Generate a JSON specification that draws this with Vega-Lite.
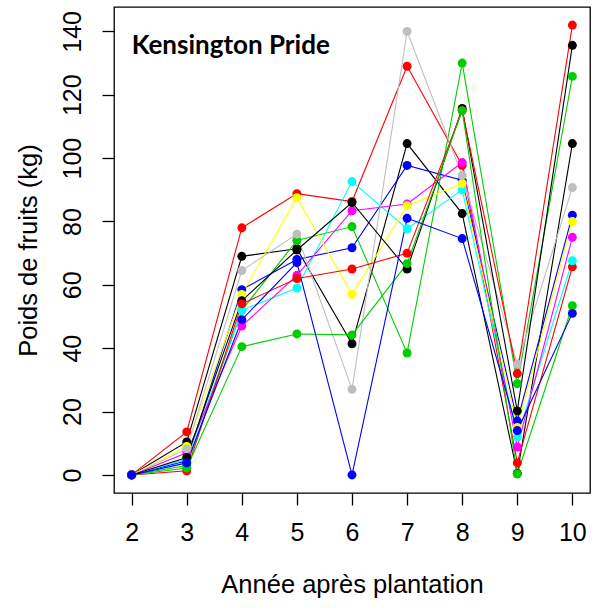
{
  "$schema": "https://vega.github.io/schema/vega-lite/v6.json",
  "width": 476,
  "height": 486,
  "autosize": {"type": "none"},
  "padding": {"left": 114, "top": 7, "right": 6, "bottom": 115},
  "background": "white",
  "config": {
    "view": {"stroke": "black", "strokeWidth": 1.3},
    "font": "Liberation Sans"
  },
  "datasets": {
    "rend": [
      {"serie": "S01", "annee": 2, "poids": 0}, {"serie": "S01", "annee": 3, "poids": 10.4}, {"serie": "S01", "annee": 4, "poids": 69}, {"serie": "S01", "annee": 5, "poids": 71.4}, {"serie": "S01", "annee": 6, "poids": 41.4}, {"serie": "S01", "annee": 7, "poids": 104.6}, {"serie": "S01", "annee": 8, "poids": 82.5}, {"serie": "S01", "annee": 9, "poids": 0.5}, {"serie": "S01", "annee": 10, "poids": 104.6},
      {"serie": "S02", "annee": 2, "poids": 0}, {"serie": "S02", "annee": 3, "poids": 13.6}, {"serie": "S02", "annee": 4, "poids": 78}, {"serie": "S02", "annee": 5, "poids": 88.8}, {"serie": "S02", "annee": 6, "poids": 86.3}, {"serie": "S02", "annee": 7, "poids": 129}, {"serie": "S02", "annee": 8, "poids": 97.7}, {"serie": "S02", "annee": 9, "poids": 3.8}, {"serie": "S02", "annee": 10, "poids": 65.7},
      {"serie": "S03", "annee": 2, "poids": 0}, {"serie": "S03", "annee": 3, "poids": 3}, {"serie": "S03", "annee": 4, "poids": 52}, {"serie": "S03", "annee": 5, "poids": 74}, {"serie": "S03", "annee": 6, "poids": 78.4}, {"serie": "S03", "annee": 7, "poids": 38.5}, {"serie": "S03", "annee": 8, "poids": 130}, {"serie": "S03", "annee": 9, "poids": 28.8}, {"serie": "S03", "annee": 10, "poids": 125.8},
      {"serie": "S04", "annee": 2, "poids": 0}, {"serie": "S04", "annee": 3, "poids": 4.5}, {"serie": "S04", "annee": 4, "poids": 58.5}, {"serie": "S04", "annee": 5, "poids": 68}, {"serie": "S04", "annee": 6, "poids": 71.7}, {"serie": "S04", "annee": 7, "poids": 97.7}, {"serie": "S04", "annee": 8, "poids": 93}, {"serie": "S04", "annee": 9, "poids": 17}, {"serie": "S04", "annee": 10, "poids": 82},
      {"serie": "S05", "annee": 2, "poids": 0}, {"serie": "S05", "annee": 3, "poids": 5}, {"serie": "S05", "annee": 4, "poids": 52}, {"serie": "S05", "annee": 5, "poids": 59}, {"serie": "S05", "annee": 6, "poids": 92.6}, {"serie": "S05", "annee": 7, "poids": 77.7}, {"serie": "S05", "annee": 8, "poids": 90}, {"serie": "S05", "annee": 9, "poids": 12}, {"serie": "S05", "annee": 10, "poids": 67.6},
      {"serie": "S06", "annee": 2, "poids": 0}, {"serie": "S06", "annee": 3, "poids": 7}, {"serie": "S06", "annee": 4, "poids": 47}, {"serie": "S06", "annee": 5, "poids": 63}, {"serie": "S06", "annee": 6, "poids": 83.4}, {"serie": "S06", "annee": 7, "poids": 85.5}, {"serie": "S06", "annee": 8, "poids": 98.6}, {"serie": "S06", "annee": 9, "poids": 8.8}, {"serie": "S06", "annee": 10, "poids": 75},
      {"serie": "S07", "annee": 2, "poids": 0}, {"serie": "S07", "annee": 3, "poids": 9}, {"serie": "S07", "annee": 4, "poids": 57}, {"serie": "S07", "annee": 5, "poids": 87.5}, {"serie": "S07", "annee": 6, "poids": 57}, {"serie": "S07", "annee": 7, "poids": 85}, {"serie": "S07", "annee": 8, "poids": 92}, {"serie": "S07", "annee": 9, "poids": 15}, {"serie": "S07", "annee": 10, "poids": 80},
      {"serie": "S08", "annee": 2, "poids": 0}, {"serie": "S08", "annee": 3, "poids": 8.2}, {"serie": "S08", "annee": 4, "poids": 64.5}, {"serie": "S08", "annee": 5, "poids": 76}, {"serie": "S08", "annee": 6, "poids": 27}, {"serie": "S08", "annee": 7, "poids": 140}, {"serie": "S08", "annee": 8, "poids": 94.5}, {"serie": "S08", "annee": 9, "poids": 35}, {"serie": "S08", "annee": 10, "poids": 90.7},
      {"serie": "S09", "annee": 2, "poids": 0}, {"serie": "S09", "annee": 3, "poids": 5.5}, {"serie": "S09", "annee": 4, "poids": 55}, {"serie": "S09", "annee": 5, "poids": 71}, {"serie": "S09", "annee": 6, "poids": 86}, {"serie": "S09", "annee": 7, "poids": 65}, {"serie": "S09", "annee": 8, "poids": 115.7}, {"serie": "S09", "annee": 9, "poids": 20.2}, {"serie": "S09", "annee": 10, "poids": 135.6},
      {"serie": "S10", "annee": 2, "poids": 0}, {"serie": "S10", "annee": 3, "poids": 1.3}, {"serie": "S10", "annee": 4, "poids": 54}, {"serie": "S10", "annee": 5, "poids": 62}, {"serie": "S10", "annee": 6, "poids": 65}, {"serie": "S10", "annee": 7, "poids": 70}, {"serie": "S10", "annee": 8, "poids": 115}, {"serie": "S10", "annee": 9, "poids": 32}, {"serie": "S10", "annee": 10, "poids": 142},
      {"serie": "S11", "annee": 2, "poids": 0}, {"serie": "S11", "annee": 3, "poids": 2.2}, {"serie": "S11", "annee": 4, "poids": 40.5}, {"serie": "S11", "annee": 5, "poids": 44.5}, {"serie": "S11", "annee": 6, "poids": 44.2}, {"serie": "S11", "annee": 7, "poids": 66.7}, {"serie": "S11", "annee": 8, "poids": 115}, {"serie": "S11", "annee": 9, "poids": 0.3}, {"serie": "S11", "annee": 10, "poids": 53.4},
      {"serie": "S12", "annee": 2, "poids": 0}, {"serie": "S12", "annee": 3, "poids": 3.8}, {"serie": "S12", "annee": 4, "poids": 49}, {"serie": "S12", "annee": 5, "poids": 67}, {"serie": "S12", "annee": 6, "poids": 0}, {"serie": "S12", "annee": 7, "poids": 81}, {"serie": "S12", "annee": 8, "poids": 74.6}, {"serie": "S12", "annee": 9, "poids": 14}, {"serie": "S12", "annee": 10, "poids": 51}
    ],
    "titre": [{"annee": 2, "poids": 133, "label": "Kensington Pride"}]
  },
  "encoding": {
    "x": {
      "field": "annee", "type": "quantitative",
      "scale": {"domain": [1.68, 10.32], "nice": false, "zero": false},
      "axis": {
        "values": [2, 3, 4, 5, 6, 7, 8, 9, 10],
        "title": "Année après plantation",
        "grid": false, "domain": false,
        "tickColor": "black", "tickSize": 12, "tickWidth": 1.3,
        "labelFontSize": 25, "labelColor": "black", "labelPadding": 15, "labelFont": "Liberation Sans",
        "titleFontSize": 25.5, "titleFontWeight": "normal", "titleColor": "black", "titlePadding": 27, "titleFont": "Liberation Sans"
      }
    },
    "y": {
      "field": "poids", "type": "quantitative",
      "scale": {"domain": [-5.7, 147.7], "nice": false, "zero": false},
      "axis": {
        "values": [0, 20, 40, 60, 80, 100, 120, 140],
        "title": "Poids de fruits (kg)",
        "grid": false, "domain": false,
        "tickColor": "black", "tickSize": 12, "tickWidth": 1.3,
        "labelAngle": -90, "labelAlign": "center", "labelBaseline": "bottom",
        "labelFontSize": 25, "labelColor": "black", "labelPadding": 17, "labelFont": "Liberation Sans",
        "titleFontSize": 25.5, "titleFontWeight": "normal", "titleColor": "black", "titlePadding": 19, "titleFont": "Liberation Sans"
      }
    }
  },
  "layer": [
    {
      "data": {"name": "rend"},
      "mark": {"type": "line", "strokeWidth": 1.1},
      "encoding": {
        "color": {
          "field": "serie", "type": "nominal", "legend": null,
          "scale": {
            "domain": ["S01", "S02", "S03", "S04", "S05", "S06", "S07", "S08", "S09", "S10", "S11", "S12"],
            "range": ["#000000", "#FF0000", "#00CD00", "#0000FF", "#00FFFF", "#FF00FF", "#FFFF00", "#BEBEBE", "#000000", "#FF0000", "#00CD00", "#0000FF"]
          }
        },
        "detail": {"field": "serie"}
      }
    },
    {
      "data": {"name": "rend"},
      "mark": {"type": "point", "filled": true, "size": 80, "opacity": 1},
      "encoding": {
        "color": {"field": "serie", "type": "nominal", "legend": null},
        "order": {"field": "serie"}
      }
    },
    {
      "data": {"name": "titre"},
      "mark": {"type": "text", "align": "left", "baseline": "alphabetic", "font": "Lato", "fontWeight": "bold", "fontSize": 26, "color": "black"},
      "encoding": {"text": {"field": "label"}}
    }
  ]
}
